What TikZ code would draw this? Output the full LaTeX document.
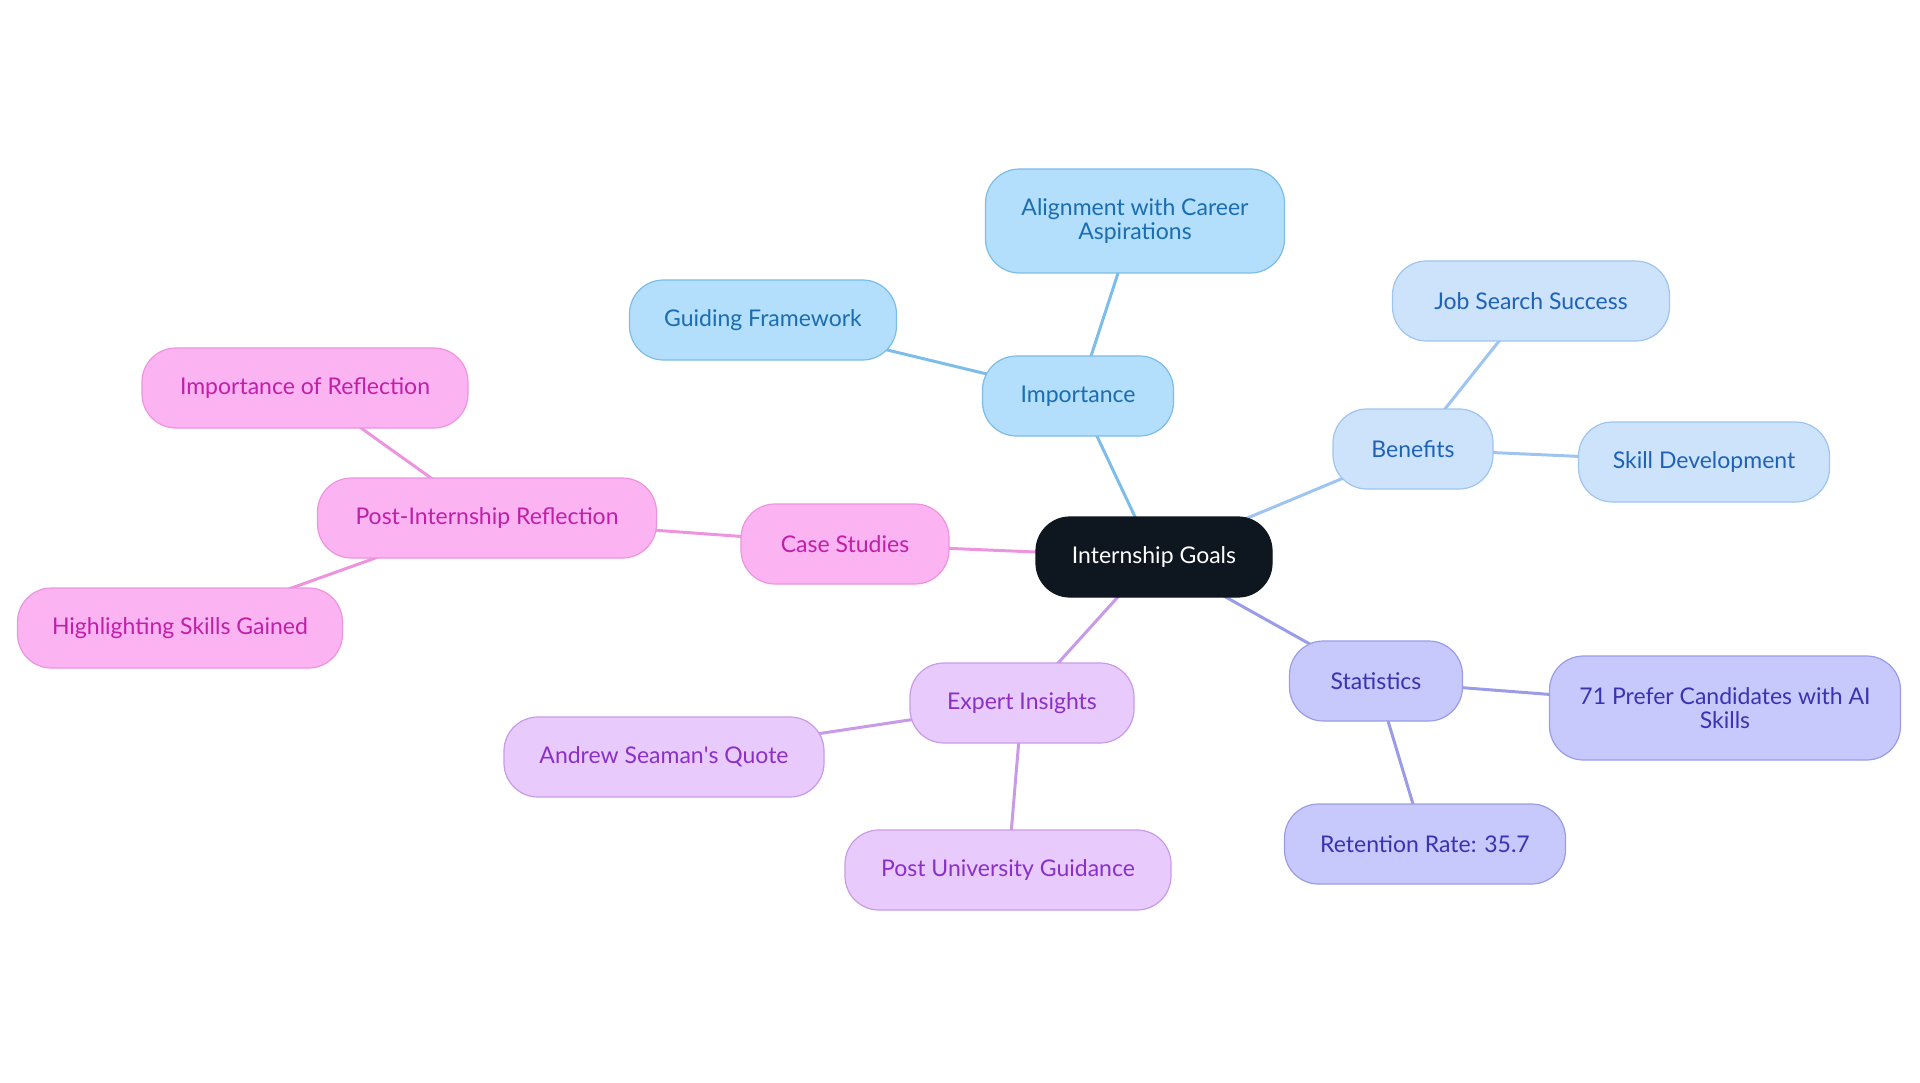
\documentclass[tikz,border=0pt]{standalone}
\usepackage{fontspec}
\setmainfont{Lato}
\usetikzlibrary{backgrounds}
\definecolor{rootfill}{HTML}{0E1620}
\definecolor{bfill}{HTML}{B3DEFC}\definecolor{bdraw}{HTML}{7CBDE9}\definecolor{btext}{HTML}{1A6DB0}
\definecolor{lfill}{HTML}{CDE3FB}\definecolor{ldraw}{HTML}{9EC4EF}\definecolor{ltext}{HTML}{1E62B8}
\definecolor{sfill}{HTML}{C7C9FD}\definecolor{sdraw}{HTML}{9A9CE8}\definecolor{stext}{HTML}{3A33B0}
\definecolor{efill}{HTML}{E8CBFC}\definecolor{edraw}{HTML}{C99AE8}\definecolor{etext}{HTML}{8A30C8}
\definecolor{cfill}{HTML}{FCB3F2}\definecolor{cdraw}{HTML}{EE94DF}\definecolor{ctext}{HTML}{C01FA8}
\begin{document}
\begin{tikzpicture}[x=1pt,y=-1pt,
  box/.style={rounded corners=34pt, line width=1.2pt, align=center,
    font=\fontsize{23}{24.5}\selectfont, minimum height=80pt, inner sep=0pt},
  rootbox/.style={box, fill=rootfill, draw=rootfill, text=white},
  bluebox/.style={box, fill=bfill, draw=bdraw, text=btext},
  lightbox/.style={box, fill=lfill, draw=ldraw, text=ltext},
  statbox/.style={box, fill=sfill, draw=sdraw, text=stext},
  expbox/.style={box, fill=efill, draw=edraw, text=etext},
  casebox/.style={box, fill=cfill, draw=cdraw, text=ctext},
  link/.style={line width=3pt}]
\useasboundingbox (0,0) rectangle (1920,1083);
\node[rootbox, minimum width=236pt] (root) at (1154,557) {Internship Goals};
\node[bluebox, minimum width=191pt] (imp) at (1078,396) {Importance};
\node[bluebox, minimum width=299pt, minimum height=104pt] (align) at (1135,221) {Alignment with Career\\Aspirations};
\node[bluebox, minimum width=267pt] (guide) at (763,320) {Guiding Framework};
\node[lightbox, minimum width=160pt] (ben) at (1413,449) {Benefits};
\node[lightbox, minimum width=277pt] (job) at (1531,301) {Job Search Success};
\node[lightbox, minimum width=251pt] (skill) at (1704,462) {Skill Development};
\node[statbox, minimum width=173pt] (stat) at (1376,681) {Statistics};
\node[statbox, minimum width=351pt, minimum height=104pt] (pref) at (1725,708) {71 Prefer Candidates with AI\\Skills};
\node[statbox, minimum width=281pt] (ret) at (1425,844) {Retention Rate: 35.7};
\node[expbox, minimum width=224pt] (exp) at (1022,703) {Expert Insights};
\node[expbox, minimum width=320pt] (andrew) at (664,757) {Andrew Seaman\textquotesingle s Quote};
\node[expbox, minimum width=326pt] (post) at (1008,870) {Post University Guidance};
\node[casebox, minimum width=208pt] (case) at (845,544) {Case Studies};
\node[casebox, minimum width=339pt] (pir) at (487,518) {Post-Internship Reflection};
\node[casebox, minimum width=326pt] (ior) at (305,388) {Importance of Reflection};
\node[casebox, minimum width=325pt] (hsg) at (180,628) {Highlighting Skills Gained};
\begin{scope}[on background layer]
\draw[link, draw=bdraw] (root.center) -- (imp.center);
\draw[link, draw=bdraw] (imp.center) -- (align.center);
\draw[link, draw=bdraw] (imp.center) -- (guide.center);
\draw[link, draw=ldraw] (root.center) -- (ben.center);
\draw[link, draw=ldraw] (ben.center) -- (job.center);
\draw[link, draw=ldraw] (ben.center) -- (skill.center);
\draw[link, draw=sdraw] (root.center) -- (stat.center);
\draw[link, draw=sdraw] (stat.center) -- (pref.center);
\draw[link, draw=sdraw] (stat.center) -- (ret.center);
\draw[link, draw=edraw] (root.center) -- (exp.center);
\draw[link, draw=edraw] (exp.center) -- (andrew.center);
\draw[link, draw=edraw] (exp.center) -- (post.center);
\draw[link, draw=cdraw] (root.center) -- (case.center);
\draw[link, draw=cdraw] (case.center) -- (pir.center);
\draw[link, draw=cdraw] (pir.center) -- (ior.center);
\draw[link, draw=cdraw] (pir.center) -- (hsg.center);
\end{scope}
\end{tikzpicture}
\end{document}
